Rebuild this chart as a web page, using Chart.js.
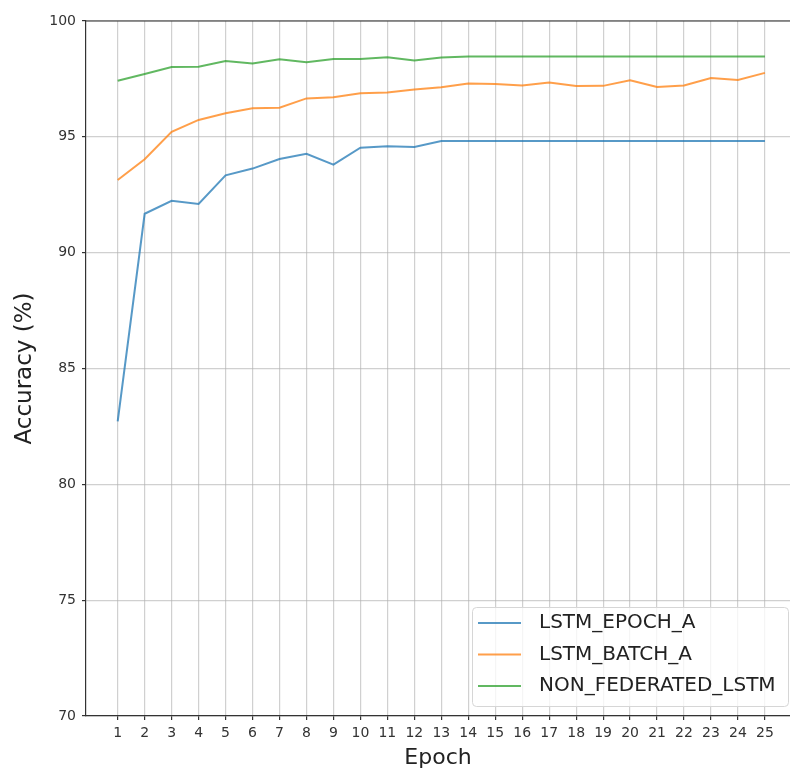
<!DOCTYPE html>
<html>
<head>
<meta charset="utf-8">
<script src="https://cdn.jsdelivr.net/npm/chart.js@4"></script>
<style>
  html, body { margin: 0; padding: 0; background: #fff; }
  #wrap { width: 790px; height: 769px; }
</style>
</head>
<body>
<div id="wrap"><canvas id="myChart" width="790" height="769"></canvas></div>
<script>
const epochs = [1, 2, 3, 4, 5, 6, 7, 8, 9, 10, 11, 12, 13, 14, 15, 16, 17, 18, 19, 20, 21, 22, 23, 24, 25];
const yTicks = [70, 75, 80, 85, 90, 95, 100];

const lstmEpochA = [82.72, 91.68, 92.24, 92.10, 93.34, 93.63, 94.04, 94.27, 93.80, 94.53, 94.59, 94.56, 94.82,
  94.82, 94.82, 94.82, 94.82, 94.82, 94.82, 94.82, 94.82, 94.82, 94.82, 94.82, 94.82];
const lstmBatchA = [93.14, 94.03, 95.22, 95.73, 96.02, 96.23, 96.26, 96.66, 96.71, 96.88, 96.91, 97.04, 97.14,
  97.30, 97.28, 97.22, 97.35, 97.19, 97.20, 97.44, 97.15, 97.22, 97.54, 97.45, 97.76];
const nonFederated = [97.42, 97.71, 98.01, 98.03, 98.27, 98.17, 98.35, 98.22, 98.36, 98.36, 98.43, 98.29, 98.42,
  98.47, 98.47, 98.47, 98.47, 98.47, 98.47, 98.47, 98.47, 98.47, 98.47, 98.47, 98.47];

const toPoints = vals => epochs.map((e, i) => ({ x: e, y: vals[i] }));

const FONT = "'DejaVu Sans', sans-serif";

// matplotlib style top spine
const topSpine = {
  id: 'topSpine',
  afterDraw(chart) {
    const { ctx, chartArea } = chart;
    ctx.save();
    ctx.strokeStyle = '#333';
    ctx.lineWidth = 1.2;
    ctx.beginPath();
    ctx.moveTo(chartArea.left, chartArea.top);
    ctx.lineTo(chartArea.right, chartArea.top);
    ctx.stroke();
    ctx.restore();
  }
};

// legend box in lower right corner of the plot
const boxLegend = {
  id: 'boxLegend',
  afterDraw(chart) {
    const { ctx, chartArea } = chart;
    const sets = chart.data.datasets;
    const w = 316, h = 99, rowH = 31.5;
    const x = chartArea.right - 2 - w;
    const y = chartArea.bottom - 10 - h;
    ctx.save();
    ctx.fillStyle = 'rgba(255,255,255,0.8)';
    ctx.strokeStyle = '#d6d6d6';
    ctx.lineWidth = 1;
    ctx.beginPath();
    ctx.roundRect(x + 0.5, y + 0.5, w, h, 4);
    ctx.fill();
    ctx.stroke();
    ctx.font = '20px ' + FONT;
    ctx.textBaseline = 'middle';
    sets.forEach((ds, i) => {
      const cy = y + 16 + i * rowH;
      ctx.strokeStyle = ds.borderColor;
      ctx.lineWidth = 2;
      ctx.beginPath();
      ctx.moveTo(x + 6, cy);
      ctx.lineTo(x + 49, cy);
      ctx.stroke();
      ctx.fillStyle = '#222';
      ctx.fillText(ds.label, x + 67, cy);
    });
    ctx.restore();
  }
};

const data = {
  datasets: [{
    label: 'LSTM_EPOCH_A',
    data: toPoints(lstmEpochA),
    borderColor: 'rgba(31, 119, 180, 0.75)'
  }, {
    label: 'LSTM_BATCH_A',
    data: toPoints(lstmBatchA),
    borderColor: 'rgba(255, 127, 14, 0.75)'
  }, {
    label: 'NON_FEDERATED_LSTM',
    data: toPoints(nonFederated),
    borderColor: 'rgba(44, 160, 44, 0.75)'
  }]
};
data.datasets.forEach(ds => {
  ds.borderWidth = 2;
  ds.pointRadius = 0;
  ds.tension = 0;
  ds.fill = false;
});

const config = {
  type: 'line',
  data: data,
  options: {
    responsive: false,
    animation: false,
    devicePixelRatio: 1,
    layout: { padding: { top: 21, left: 0, right: 0, bottom: 0 } },
    scales: {
      x: {
        type: 'linear',
        min: -0.175,
        max: 25.93,
        afterBuildTicks: axis => { axis.ticks = epochs.map(v => ({ value: v })); },
        afterFit: scale => { scale.height = 53; },
        grid: {
          color: 'rgba(176, 176, 176, 0.6)',
          lineWidth: 1.2,
          tickColor: '#333',
          tickLength: 4
        },
        border: { color: '#333', width: 1.2 },
        ticks: {
          color: '#333',
          padding: 5,
          maxRotation: 0,
          autoSkip: false,
          font: { family: FONT, size: 14 }
        },
        title: {
          display: true,
          text: 'Epoch',
          color: '#222',
          padding: { top: 0, bottom: 0 },
          font: { family: FONT, size: 22, lineHeight: 1 }
        }
      },
      y: {
        min: 70,
        max: 100,
        afterBuildTicks: axis => { axis.ticks = yTicks.map(v => ({ value: v })); },
        afterFit: scale => { scale.width = 86; },
        grid: {
          color: 'rgba(176, 176, 176, 0.6)',
          lineWidth: 1.2,
          tickColor: '#333',
          tickLength: 4
        },
        border: { color: '#333', width: 1.2 },
        ticks: {
          color: '#333',
          padding: 6,
          font: { family: FONT, size: 14 }
        },
        title: {
          display: true,
          text: 'Accuracy (%)',
          color: '#222',
          padding: { top: 11, bottom: 0 },
          font: { family: FONT, size: 23, lineHeight: 1.2 }
        }
      }
    },
    plugins: {
      legend: { display: false },
      tooltip: { enabled: false }
    }
  },
  plugins: [topSpine, boxLegend]
};

const myChart = new Chart(document.getElementById('myChart').getContext('2d'), config);
</script>
</body>
</html>
